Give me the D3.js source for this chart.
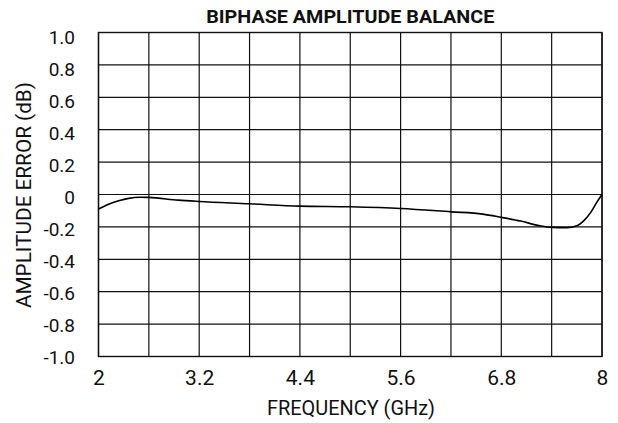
<!DOCTYPE html>
<html>
<head>
<meta charset="utf-8">
<script src="https://cdn.jsdelivr.net/npm/d3@7"></script>
<style>
  body { margin: 0; background: #fff; }
  svg text { font-family: "Roboto", sans-serif; fill: #111; }
</style>
</head>
<body>
<div id="container"></div>
<script>
const freq = [2.0, 2.12, 2.24, 2.36, 2.48, 2.6, 2.95, 3.2, 3.8, 4.4, 5.0, 5.6, 6.2, 6.58, 6.8, 7.03, 7.26, 7.4, 7.58, 7.7, 7.79, 7.87, 7.93, 8.0];
const error = [-0.09, -0.06, -0.039, -0.024, -0.017, -0.018, -0.035, -0.043, -0.057, -0.072, -0.076, -0.086, -0.107, -0.121, -0.141, -0.164, -0.193, -0.203, -0.205, -0.193, -0.158, -0.107, -0.055, 0.0];
const xTicks = [2, 2.6, 3.2, 3.8, 4.4, 5.0, 5.6, 6.2, 6.8, 7.4, 8];
const xLabels = [2, 3.2, 4.4, 5.6, 6.8, 8];
const yTicks = [-1, -0.8, -0.6, -0.4, -0.2, 0, 0.2, 0.4, 0.6, 0.8, 1];

const w = 618;
const h = 423;
const padL = 98.5, padR = 602, padT = 32.5, padB = 356.5;

const xScale = d3.scaleLinear().domain([2, 8]).range([padL, padR]);
const yScale = d3.scaleLinear().domain([-1, 1]).range([padB, padT]);
// tick labels sit slightly lower near the top, as in the original
const yLabelScale = d3.scaleLinear().domain([-1, 1]).range([357, 37]);

const fmt = d => (d === 0 || d === 2 || d === 8 ? String(d) : d.toFixed(1));

const svg = d3.select('#container').append('svg').attr('width', w).attr('height', h);

// grid
svg.append('g')
  .selectAll('line')
  .data(xTicks)
  .enter()
  .append('line')
  .attr('x1', d => xScale(d)).attr('x2', d => xScale(d))
  .attr('y1', padT).attr('y2', padB)
  .attr('stroke', '#111').attr('stroke-width', 1.2);

svg.append('g')
  .selectAll('line')
  .data(yTicks)
  .enter()
  .append('line')
  .attr('y1', d => yScale(d)).attr('y2', d => yScale(d))
  .attr('x1', padL).attr('x2', padR)
  .attr('stroke', '#111').attr('stroke-width', 1.2);

svg.append('rect')
  .attr('x', padL).attr('y', padT)
  .attr('width', padR - padL).attr('height', padB - padT)
  .attr('fill', 'none').attr('stroke', '#111').attr('stroke-width', 1.4);

// curve
const line = d3.line()
  .x(d => xScale(d[0]))
  .y(d => yScale(d[1]))
  .curve(d3.curveMonotoneX);

svg.append('path')
  .datum(freq.map((f, i) => [f, error[i]]))
  .attr('d', line)
  .attr('fill', 'none')
  .attr('stroke', '#000')
  .attr('stroke-width', 1.6);

// axes (labels only)
const xAxis = d3.axisBottom(xScale).tickValues(xLabels).tickSize(0).tickPadding(0).tickFormat(fmt);
svg.append('g')
  .attr('transform', `translate(0, ${padB + 14})`)
  .call(xAxis)
  .call(g => g.select('.domain').remove())
  .selectAll('text')
  .style('font-size', '21px');

const yAxis = d3.axisLeft(yLabelScale).tickValues(yTicks).tickSize(0).tickPadding(0).tickFormat(fmt);
svg.append('g')
  .attr('transform', `translate(75, 0)`)
  .call(yAxis)
  .call(g => g.select('.domain').remove())
  .selectAll('text')
  .style('font-size', '19px');

// titles
svg.append('text')
  .attr('x', (padL + padR) / 2).attr('y', 23)
  .attr('text-anchor', 'middle')
  .attr('textLength', 288).attr('lengthAdjust', 'spacingAndGlyphs')
  .style('font-size', '19px').style('font-weight', 'bold')
  .text('BIPHASE AMPLITUDE BALANCE');

svg.append('text')
  .attr('x', 351).attr('y', 415)
  .attr('text-anchor', 'middle')
  .attr('textLength', 168).attr('lengthAdjust', 'spacingAndGlyphs')
  .style('font-size', '21px')
  .text('FREQUENCY (GHz)');

svg.append('text')
  .attr('transform', `translate(31, 195) rotate(-90)`)
  .attr('text-anchor', 'middle')
  .attr('textLength', 226).attr('lengthAdjust', 'spacingAndGlyphs')
  .style('font-size', '21px')
  .text('AMPLITUDE ERROR (dB)');
</script>
</body>
</html>
